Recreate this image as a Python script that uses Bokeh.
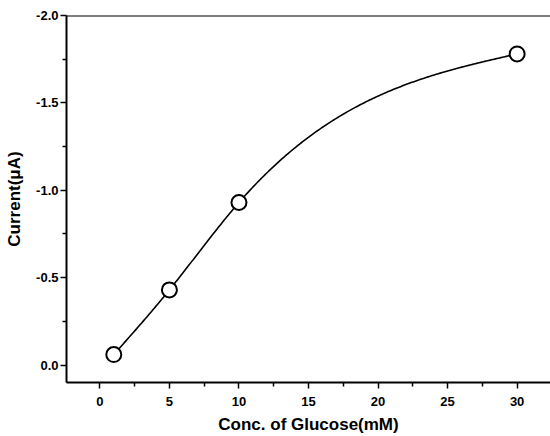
import numpy as np
from bokeh.plotting import figure
from bokeh.models import Range1d, FixedTicker, Span, NumeralTickFormatter
from bokeh.embed import file_html
from bokeh.resources import INLINE

# ---- data ----
conc_mM = [1, 5, 10, 30]
current_uA = [-0.06, -0.43, -0.93, -1.78]
x_ticks = [0, 5, 10, 15, 20, 25, 30]
x_minor = [2.5, 7.5, 12.5, 17.5, 22.5, 27.5, 32.5]
y_ticks = [0.0, -0.5, -1.0, -1.5, -2.0]
y_minor = [-0.25, -0.75, -1.25, -1.75]

# smooth connecting line (natural cubic spline drawn through the data points)
def spline_curve(xs, ys, n=300):
    xs = np.asarray(xs, float)
    ys = np.asarray(ys, float)
    k = len(xs)
    h = np.diff(xs)
    A = np.zeros((k - 2, k - 2))
    r = np.zeros(k - 2)
    for i in range(1, k - 1):
        A[i - 1, i - 1] = 2 * (h[i - 1] + h[i])
        if i - 2 >= 0:
            A[i - 1, i - 2] = h[i - 1]
        if i < k - 2:
            A[i - 1, i] = h[i]
        r[i - 1] = 6 * ((ys[i + 1] - ys[i]) / h[i] - (ys[i] - ys[i - 1]) / h[i - 1])
    M = np.zeros(k)
    M[1:-1] = np.linalg.solve(A, r)
    xx = np.linspace(xs[0], xs[-1], n)
    yy = np.empty_like(xx)
    for j, t in enumerate(xx):
        i = min(np.searchsorted(xs, t, side="right") - 1, k - 2)
        a = xs[i + 1] - t
        b = t - xs[i]
        yy[j] = (M[i] * a ** 3 + M[i + 1] * b ** 3) / (6 * h[i]) \
            + (ys[i] / h[i] - M[i] * h[i] / 6) * a \
            + (ys[i + 1] / h[i] - M[i + 1] * h[i] / 6) * b
    return xx, yy

cx, cy = spline_curve(conc_mM, current_uA)

FONT = "Liberation Sans"

p = figure(width=550, height=436, output_backend="svg", toolbar_location=None,
           x_range=Range1d(-2.4, 32.4), y_range=Range1d(0.1, -2.0),
           min_border_top=15, min_border_right=0, min_border_left=66,
           min_border_bottom=53)
p.outline_line_color = None
p.grid.visible = False
p.background_fill_color = "white"
p.border_fill_color = "white"

p.line(cx, cy, line_color="black", line_width=1.6)
p.scatter(conc_mM, current_uA, size=15, marker="circle", fill_color="white",
          line_color="black", line_width=2)

p.add_layout(Span(location=-2.0, dimension="width", line_color="black", line_width=2))

for ax in (p.xaxis[0], p.yaxis[0]):
    ax.axis_line_width = 2
    ax.axis_line_color = "black"
    ax.major_tick_line_width = 1.5
    ax.minor_tick_line_width = 1.5
    ax.major_tick_in = 0
    ax.major_tick_out = 6
    ax.minor_tick_in = 0
    ax.minor_tick_out = 4
    ax.major_label_text_font = FONT
    ax.major_label_text_font_style = "bold"
    ax.major_label_text_font_size = "13px"
    ax.major_label_text_color = "black"
    ax.axis_label_text_font = FONT
    ax.axis_label_text_font_style = "bold"
    ax.axis_label_text_font_size = "17px"
    ax.axis_label_text_color = "black"

p.xaxis.ticker = FixedTicker(ticks=x_ticks, minor_ticks=x_minor)
p.yaxis.ticker = FixedTicker(ticks=y_ticks, minor_ticks=y_minor)
p.yaxis.formatter = NumeralTickFormatter(format="0.0")
p.xaxis.axis_label = "Conc. of Glucose(mM)"
p.yaxis.axis_label = "Current(μA)"
p.xaxis.major_label_standoff = 8
p.yaxis.major_label_standoff = 2
p.xaxis.axis_label_standoff = 6
p.yaxis.axis_label_standoff = 9

open("out.html", "w").write(file_html(p, INLINE))
